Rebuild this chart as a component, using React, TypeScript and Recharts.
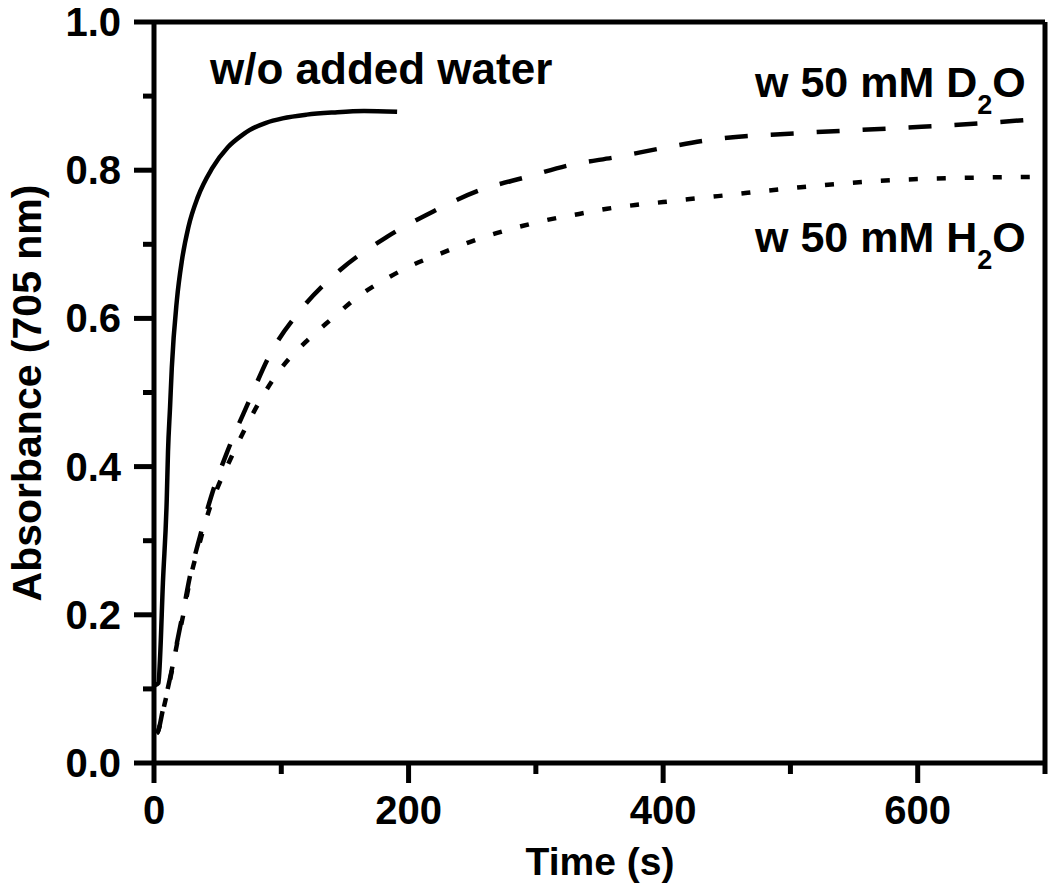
import { LineChart, Line, XAxis, YAxis, ReferenceLine } from "recharts";

const FONT = "'Liberation Sans', Arial, Helvetica, sans-serif";

// w/o added water
const dryTime = [1, 3.5, 4.7, 7, 10, 11, 12.6, 14, 18, 22, 27, 34.5, 45.5, 58, 69, 75, 88, 101, 120, 141, 165, 191];
const dryAbs = [0.105, 0.108, 0.14, 0.243, 0.355, 0.42, 0.48, 0.534, 0.625, 0.679, 0.723, 0.764, 0.802, 0.831, 0.847, 0.854, 0.864, 0.87, 0.875, 0.878, 0.88, 0.879];

// w 50 mM D2O
const d2oTime = [2, 3, 7, 14, 18, 23, 28, 36, 45, 58, 74, 91, 115, 146, 183, 219, 256, 293, 327, 364, 400, 437, 507, 586, 664, 700];
const d2oAbs = [0.04, 0.042, 0.072, 0.126, 0.162, 0.205, 0.25, 0.305, 0.36, 0.422, 0.486, 0.551, 0.611, 0.665, 0.71, 0.744, 0.773, 0.791, 0.807, 0.818, 0.83, 0.841, 0.85, 0.857, 0.865, 0.87];

// w 50 mM H2O
const h2oTime = [2, 3, 7, 14, 18, 23, 28, 36, 44, 50, 60, 73, 85, 100, 119, 140, 160, 183, 203, 226, 248, 269, 290, 312, 334, 356, 378, 400, 421, 443, 508, 586, 690];
const h2oAbs = [0.04, 0.042, 0.07, 0.124, 0.16, 0.2, 0.245, 0.298, 0.345, 0.372, 0.41, 0.456, 0.494, 0.533, 0.568, 0.6, 0.629, 0.654, 0.672, 0.688, 0.703, 0.715, 0.725, 0.734, 0.741, 0.748, 0.753, 0.757, 0.761, 0.765, 0.777, 0.787, 0.791];

const xTicks = [0, 100, 200, 300, 400, 500, 600, 700];
const yTicks = [0, 0.1, 0.2, 0.3, 0.4, 0.5, 0.6, 0.7, 0.8, 0.9, 1.0];

const zip = (t: number[], v: number[]) => t.map((x, i) => ({ t: x, a: v[i] }));
const dryData = zip(dryTime, dryAbs);
const d2oData = zip(d2oTime, d2oAbs);
const h2oData = zip(h2oTime, h2oAbs);

const YTick = ({ x, y, payload }: any) => {
  const major = Math.round(payload.value * 10) % 2 === 0;
  return (
    <g>
      <line x1={x} x2={x - (major ? 20 : 11)} y1={y} y2={y} stroke="#000" strokeWidth={5} />
      {major && (
        <text x={x - 33} y={y + 14} textAnchor="end" fontFamily={FONT} fontWeight="bold" fontSize={40} fill="#000">
          {payload.value.toFixed(1)}
        </text>
      )}
    </g>
  );
};

const XTick = ({ x, y, payload }: any) => {
  const major = payload.value % 200 === 0;
  return (
    <g>
      <line x1={x} x2={x} y1={y} y2={y + (major ? 20 : 11)} stroke="#000" strokeWidth={5} />
      {major && (
        <text x={x} y={y + 61} textAnchor="middle" fontFamily={FONT} fontWeight="bold" fontSize={40} fill="#000">
          {payload.value}
        </text>
      )}
    </g>
  );
};

const txt = { fontFamily: FONT, fontWeight: "bold" as const, fill: "#000" };

export default function App() {
  return (
    <div style={{ position: "absolute", left: 0, top: 0, width: 1050, height: 884, background: "#fff" }}>
      <LineChart width={1050} height={884} margin={{ top: 22, right: 5, bottom: 0, left: 0 }}>
        <XAxis
          type="number"
          dataKey="t"
          domain={[0, 700]}
          ticks={xTicks}
          interval={0}
          height={121}
          tickSize={0}
          tickMargin={0}
          tick={<XTick />}
          axisLine={{ stroke: "#000", strokeWidth: 5 }}
          allowDataOverflow
        />
        <YAxis
          type="number"
          domain={[0, 1]}
          ticks={yTicks}
          interval={0}
          width={154}
          tickSize={0}
          tickMargin={0}
          tick={<YTick />}
          axisLine={{ stroke: "#000", strokeWidth: 5 }}
          allowDataOverflow
        />
        <ReferenceLine y={1} stroke="#000" strokeWidth={5} ifOverflow="visible" />
        <ReferenceLine x={700} stroke="#000" strokeWidth={5} ifOverflow="visible" />
        <Line data={dryData} dataKey="a" type="monotone" stroke="#000" strokeWidth={4.5} dot={false} isAnimationActive={false} />
        <Line data={d2oData} dataKey="a" type="monotone" stroke="#000" strokeWidth={4.5} strokeDasharray="23 23" dot={false} isAnimationActive={false} />
        <Line data={h2oData} dataKey="a" type="monotone" stroke="#000" strokeWidth={4.5} strokeDasharray="9 19" dot={false} isAnimationActive={false} />
      </LineChart>
      <svg width={1050} height={884} style={{ position: "absolute", left: 0, top: 0, pointerEvents: "none" }}>
        <text x={600} y={875} textAnchor="middle" fontSize={39} {...txt}>Time (s)</text>
        <text transform="translate(41,393) rotate(-90)" textAnchor="middle" fontSize={41} {...txt}>Absorbance (705 nm)</text>
        <text x={210} y={84} fontSize={44} {...txt}>w/o added water</text>
        <text x={755} y={97} fontSize={43} {...txt}>
          w 50 mM D<tspan fontSize={27} dy={17}>2</tspan><tspan dy={-17}>O</tspan>
        </text>
        <text x={755} y={252} fontSize={43} {...txt}>
          w 50 mM H<tspan fontSize={27} dy={17}>2</tspan><tspan dy={-17}>O</tspan>
        </text>
      </svg>
    </div>
  );
}
